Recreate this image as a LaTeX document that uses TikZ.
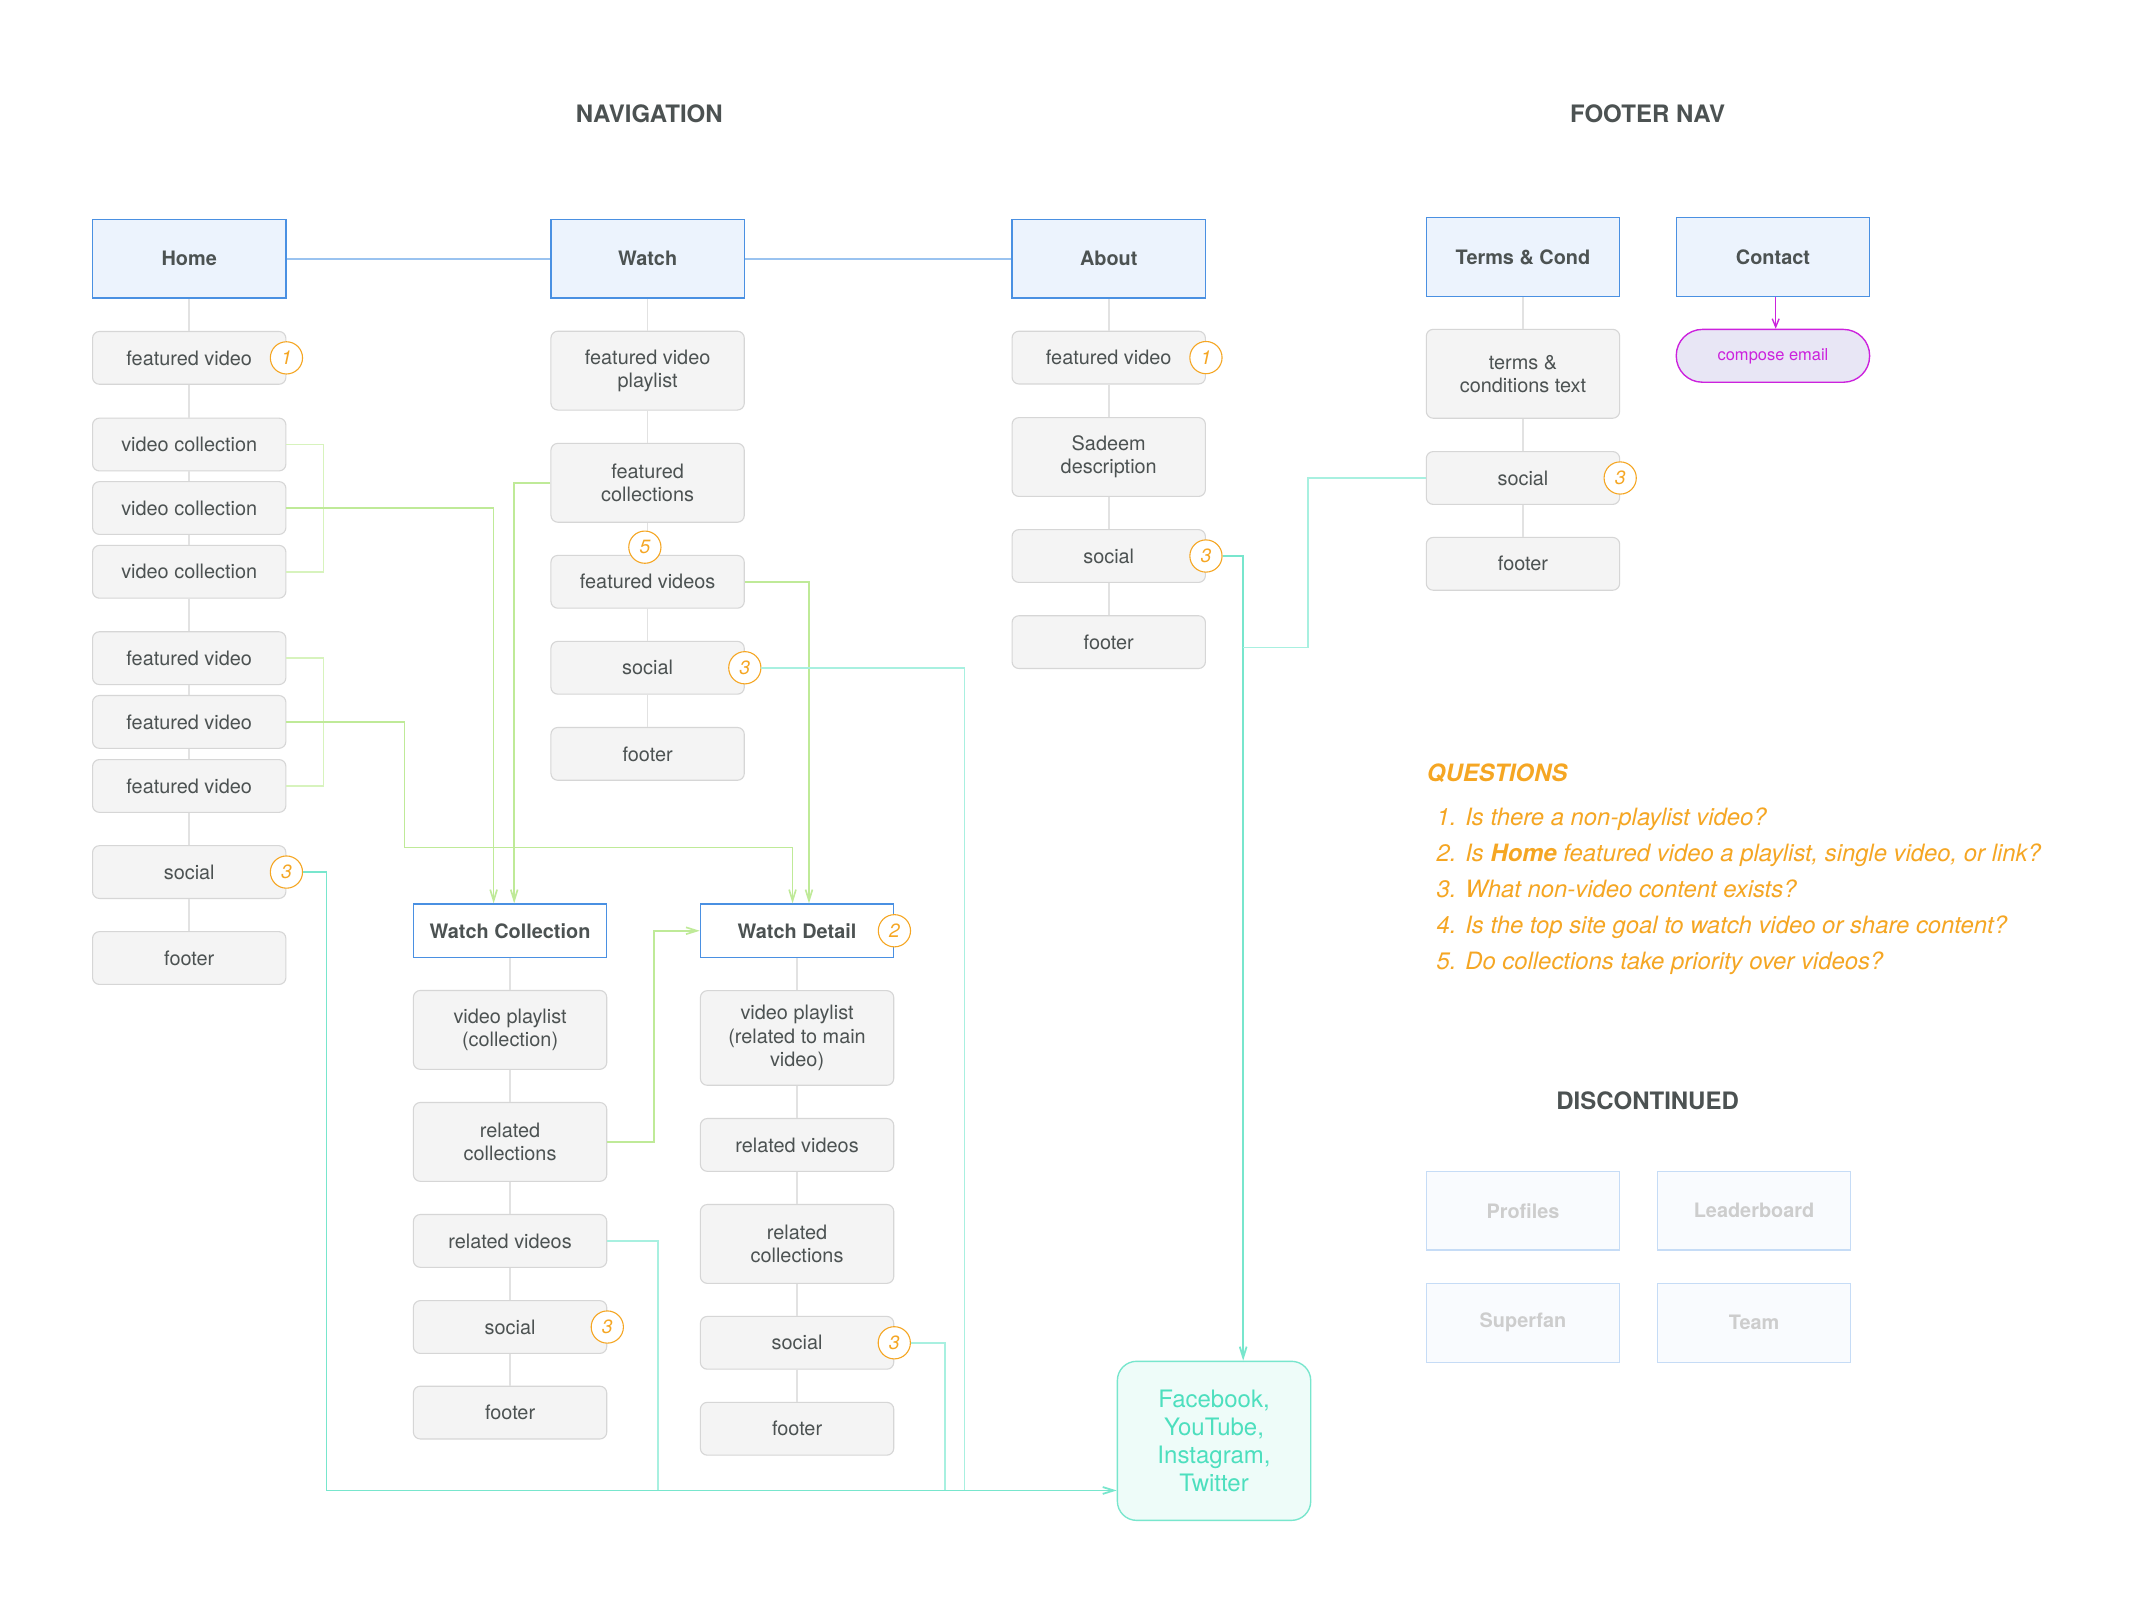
\documentclass[tikz,border=0pt]{standalone}
\usepackage{fontspec}
\setmainfont{TeX Gyre Heros}
\usepackage{tikz}
\usetikzlibrary{positioning, calc, arrows.meta}

\definecolor{inkgray}{HTML}{4C5252}
\definecolor{boxfill}{HTML}{F4F4F4}
\definecolor{boxline}{HTML}{D6D6D6}
\definecolor{pageblue}{HTML}{4A90E2}
\definecolor{pagefill}{HTML}{ECF3FD}
\definecolor{linkblue}{HTML}{9AC3F0}
\definecolor{linkgreen}{HTML}{BFEA98}
\definecolor{palegreen}{HTML}{D7F3BD}
\definecolor{linkteal}{HTML}{78E6CD}
\definecolor{paleteal}{HTML}{A8F0E0}
\definecolor{noteorange}{HTML}{F5A623}
\definecolor{mailpink}{HTML}{CC22DD}
\definecolor{mailfill}{HTML}{E8E6F5}
\definecolor{fbfill}{HTML}{EEFCF9}
\definecolor{fbtext}{HTML}{4DDFBE}
\definecolor{ghostline}{HTML}{C6DCF6}
\definecolor{ghostfill}{HTML}{F9FBFE}
\definecolor{ghosttext}{HTML}{CDCDCD}
\definecolor{spinegray}{HTML}{E2E2E2}

\tikzset{
  pagebox/.style={draw=pageblue, fill=pagefill, line width=1pt, minimum width=141pt, minimum height=57.5pt,
    inner sep=0pt, text=inkgray, font=\bfseries\fontsize{14.5}{17}\selectfont},
  subpage/.style={pagebox, fill=white, minimum height=39pt},
  itembox/.style={draw=boxline, fill=boxfill, rounded corners=5pt, line width=0.8pt, minimum width=141pt,
    minimum height=38.5pt, inner sep=0pt, align=center, text=inkgray, font=\fontsize{14.5}{17}\selectfont},
  tallbox/.style={itembox, minimum height=57.5pt},
  badge/.style={circle, draw=noteorange, fill=white, line width=0.8pt, minimum size=23.5pt, inner sep=0pt,
    text=noteorange, font=\itshape\fontsize{14}{14}\selectfont},
  ghost/.style={pagebox, draw=ghostline, fill=ghostfill, text=ghosttext},
  heading/.style={text=inkgray, font=\bfseries\fontsize{17.5}{20}\selectfont},
  question/.style={anchor=base west, inner sep=0pt, text=noteorange, font=\itshape\fontsize{17.4}{20}\selectfont},
  spine/.style={draw=spinegray, line width=1.2pt},
  bluelink/.style={draw=linkblue, line width=1.2pt},
  greenlink/.style={draw=linkgreen, line width=1.2pt, -{Straight Barb[length=8pt,width=5pt]}},
  greenpale/.style={draw=palegreen, line width=1.2pt},
  teallink/.style={draw=linkteal, line width=1.3pt, -{Straight Barb[length=8pt,width=5pt]}},
  tealpale/.style={draw=paleteal, line width=1.1pt},
}

\begin{document}
\begin{tikzpicture}[x=1pt, y=-1pt]
  \fill[white] (0,0) rectangle (1568,1174);
  \useasboundingbox (0,0) rectangle (1568,1174);

  % headings
  \node[heading] (navtitle) at (473.5,83) {NAVIGATION};
  \node[heading] (foottitle) at (1201.6,83) {FOOTER NAV};
  \node[heading] (disctitle) at (1201.6,802.7) {DISCONTINUED};

  % Home
  \node[pagebox] (home) at (138,188.7) {Home};
  \node[itembox] (hfv) at (138,261) {featured video};
  \node[itembox] (hvc1) at (138,324.2) {video collection};
  \node[itembox] (hvc2) at (138,370.5) {video collection};
  \node[itembox] (hvc3) at (138,417) {video collection};
  \node[itembox] (hfv1) at (138,480) {featured video};
  \node[itembox] (hfv2) at (138,526.5) {featured video};
  \node[itembox] (hfv3) at (138,573.2) {featured video};
  \node[itembox] (hsoc) at (138,636) {social};
  \node[itembox] (hfoot) at (138,698.7) {footer};

  % Watch
  \node[pagebox] (watch) at (472.3,188.7) {Watch};
  \node[tallbox] (wfvp) at (472.3,270.3) {featured video\\playlist};
  \node[tallbox] (wfc) at (472.3,352.1) {featured\\collections};
  \node[itembox] (wfv) at (472.3,424.3) {featured videos};
  \node[itembox] (wsoc) at (472.3,487) {social};
  \node[itembox] (wfoot) at (472.3,549.8) {footer};

  % About
  \node[pagebox] (about) at (808.6,188.7) {About};
  \node[itembox] (afv) at (808.6,260.8) {featured video};
  \node[tallbox] (adesc) at (808.6,333.3) {Sadeem\\description};
  \node[itembox] (asoc) at (808.6,405.5) {social};
  \node[itembox] (afoot) at (808.6,468.3) {footer};

  % footer nav
  \node[pagebox] (terms) at (1110.7,187.5) {Terms \& Cond};
  \node[itembox, minimum height=64.8pt] (ttext) at (1110.7,272.6) {terms \&\\conditions text};
  \node[itembox] (tsoc) at (1110.7,348.6) {social};
  \node[itembox] (tfoot) at (1110.7,411.2) {footer};
  \node[pagebox] (contact) at (1293,187.5) {Contact};
  \node[draw=mailpink, fill=mailfill, line width=1pt, rounded corners=19pt, minimum width=141pt,
    minimum height=38.5pt, text=mailpink, font=\fontsize{12}{14}\selectfont] (email) at (1293,259.5) {compose email};

  % Watch Collection
  \node[subpage] (wc) at (372,678.8) {Watch Collection};
  \node[tallbox] (wcvp) at (372,751.1) {video playlist\\(collection)};
  \node[tallbox] (wcrc) at (372,832.8) {related\\collections};
  \node[itembox] (wcrv) at (372,905) {related videos};
  \node[itembox] (wcsoc) at (372,967.8) {social};
  \node[itembox] (wcfoot) at (372,1030.2) {footer};

  % Watch Detail
  \node[subpage] (wd) at (581.3,678.8) {Watch Detail};
  \node[itembox, minimum height=69pt] (wdvp) at (581.3,757) {video playlist\\(related to main\\video)};
  \node[itembox] (wdrv) at (581.3,835) {related videos};
  \node[tallbox] (wdrc) at (581.3,907.2) {related\\collections};
  \node[itembox] (wdsoc) at (581.3,979.3) {social};
  \node[itembox] (wdfoot) at (581.3,1042) {footer};

  % social targets
  \node[draw=linkteal, fill=fbfill, line width=1pt, rounded corners=14pt, minimum width=141pt, minimum height=116pt,
    align=center, text=fbtext, font=\fontsize{17.5}{20.3}\selectfont] (fb) at (885.4,1050.8)
    {Facebook,\\YouTube,\\Instagram,\\Twitter};

  % discontinued
  \node[ghost] (profiles) at (1110.7,883) {Profiles};
  \node[ghost] (leader) at (1279.2,883) {Leaderboard};
  \node[ghost] (superfan) at (1110.7,964.7) {Superfan};
  \node[ghost] (team) at (1279.2,964.7) {Team};

  % questions
  \node[question, font=\bfseries\itshape\fontsize{17.4}{20}\selectfont] (qhead) at (1040.5,570) {QUESTIONS};
  \node[question] (q1) at (1047.5,602) {1. Is there a non-playlist video?};
  \node[question] (q2) at (1047.5,628.3) {2. Is \textbf{Home} featured video a playlist, single video, or link?};
  \node[question] (q3) at (1047.5,654.5) {3. What non-video content exists?};
  \node[question] (q4) at (1047.5,681) {4. Is the top site goal to watch video or share content?};
  \node[question] (q5) at (1047.5,707) {5. Do collections take priority over videos?};

  % page spines
  \foreach \a/\b in {home/hfv, hfv/hvc1, hvc1/hvc2, hvc2/hvc3, hvc3/hfv1, hfv1/hfv2, hfv2/hfv3, hfv3/hsoc, hsoc/hfoot,
      watch/wfvp, wfvp/wfc, wfc/wfv, wfv/wsoc, wsoc/wfoot, about/afv, afv/adesc, adesc/asoc, asoc/afoot,
      terms/ttext, ttext/tsoc, tsoc/tfoot, wc/wcvp, wcvp/wcrc, wcrc/wcrv, wcrv/wcsoc, wcsoc/wcfoot,
      wd/wdvp, wdvp/wdrv, wdrv/wdrc, wdrc/wdsoc, wdsoc/wdfoot}
    \draw[spine] (\a.south) -- (\b.north);

  % question badges
  \node[badge] (bhfv) at (hfv.east) {1};
  \node[badge] (bhsoc) at (hsoc.east) {3};
  \node[badge] (bwfv) at ([xshift=-2pt,yshift=5.6pt]wfv.north) {5};
  \node[badge] (bwsoc) at (wsoc.east) {3};
  \node[badge] (bafv) at (afv.east) {1};
  \node[badge] (basoc) at (asoc.east) {3};
  \node[badge] (btsoc) at (tsoc.east) {3};
  \node[badge] (bwd) at (wd.east) {2};
  \node[badge] (bwcsoc) at (wcsoc.east) {3};
  \node[badge] (bwdsoc) at (wdsoc.east) {3};

  % top level nav
  \draw[bluelink] (home) -- (watch);
  \draw[bluelink] (watch) -- (about);
  \draw[draw=mailpink, line width=1pt, -{Straight Barb[length=6pt,width=5pt]}] ([xshift=2pt]contact.south) -- ([xshift=2pt]email.north);

  % links into watch pages
  \coordinate (fvbend) at (295,618);
  \draw[greenpale] (hvc1.east) -- ++(27,0) |- (hvc3.east);
  \draw[greenpale] (hfv1.east) -- ++(27,0) |- (hfv3.east);
  \draw[greenlink] (hvc2.east) -| ([xshift=-12pt]wc.north);
  \draw[greenlink] (wfc.west) -| ([xshift=3pt]wc.north);
  \draw[greenlink] (hfv2.east) -| (fvbend) -| ([xshift=-3.3pt]wd.north);
  \draw[greenlink] (wfv.east) -| ([xshift=8.7pt]wd.north);
  \draw[greenlink] (wcrc.east) -- ++(34,0) |- (wd.west);

  % links into social
  \coordinate (fbin) at ([yshift=-36.2pt]fb.west);
  \draw[teallink] (bhsoc.east) -- ++(17,0) |- (fbin);
  \draw[tealpale] (wcrv.east) -- ++(37,0) coordinate (t1) -- (t1 |- fbin);
  \draw[tealpale] (bwdsoc.east) -- ++(25,0) coordinate (t2) -- (t2 |- fbin);
  \draw[tealpale] (bwsoc.east) -- ++(148,0) coordinate (t3) -- (t3 |- fbin);
  \draw[teallink] (basoc.east) -- ++(15,0) coordinate (t4) -- (t4 |- fb.north);
  \draw[tealpale] (tsoc.west) -- ++(-86,0) |- ([yshift=-66.8pt]t4);
\end{tikzpicture}
\end{document}
